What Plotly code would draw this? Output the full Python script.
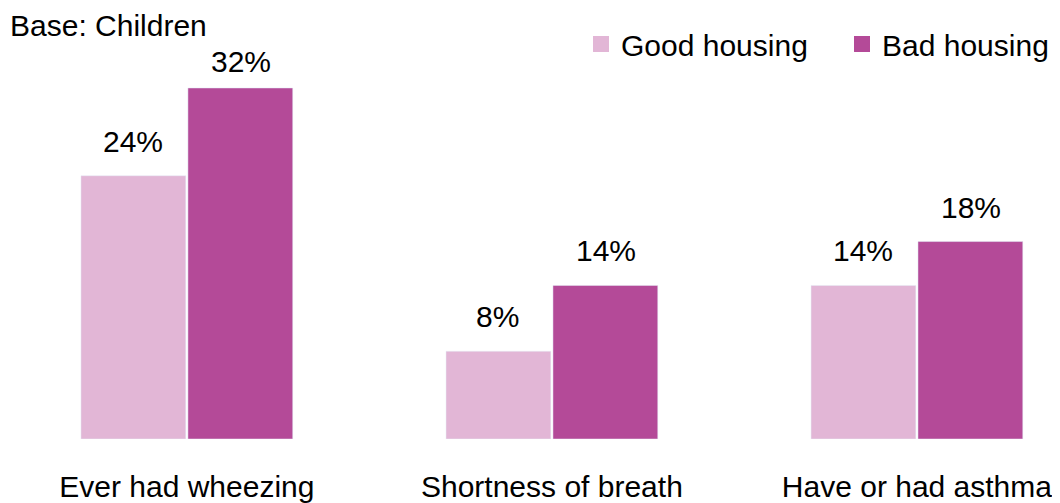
import plotly.graph_objects as go

categories = ["Ever had wheezing", "Shortness of breath", "Have or had asthma"]
good_housing = [24, 8, 14]
bad_housing = [32, 14, 18]

FONT = "Liberation Sans, Arial, sans-serif"
GOOD_COLOR = "#E2B6D6"
BAD_COLOR = "#B44A98"
FS = 30

fig = go.Figure()
fig.add_trace(go.Bar(x=categories, y=good_housing, name="Good housing", marker_color=GOOD_COLOR, showlegend=False))
fig.add_trace(go.Bar(x=categories, y=bad_housing, name="Bad housing", marker_color=BAD_COLOR, showlegend=False))

# legend-only entries (one legend each so they can be placed freely)
fig.add_trace(go.Scatter(x=[None], y=[None], mode="markers", name="Good housing", legend="legend",
                         marker=dict(symbol="square", size=19, color=GOOD_COLOR)))
fig.add_trace(go.Scatter(x=[None], y=[None], mode="markers", name="Bad housing", legend="legend2",
                         marker=dict(symbol="square", size=19, color=BAD_COLOR)))

# value labels above bars; the tallest one is squeezed closer to its bar
top_val = max(good_housing + bad_housing)
for vals, shift in [(good_housing, -54), (bad_housing, 54)]:
    for cat, v in zip(categories, vals):
        fig.add_annotation(x=cat, y=v, text=f"{v}%", showarrow=False, xshift=shift,
                           yanchor="bottom", yshift=8 if v == top_val else 16,
                           font=dict(size=FS, color="#000000"))

fig.add_annotation(x=0, y=0.959, xref="paper", yref="paper", xanchor="left", yanchor="middle",
                   text="Base: Children", showarrow=False, font=dict(size=FS, color="#000000"))

leg = dict(orientation="h", xanchor="left", y=0.9165, yanchor="middle",
           font=dict(size=FS), bgcolor="rgba(0,0,0,0)")
fig.update_layout(
    width=1052, height=495,
    barmode="group", bargap=0.414, bargroupgap=0.02,
    plot_bgcolor="white", paper_bgcolor="white",
    font=dict(family=FONT, size=FS, color="#000000"),
    margin=dict(l=0, r=0, t=0, b=64),
    showlegend=True,
    legend=dict(leg, x=0.5447),
    legend2=dict(leg, x=0.7928),
)
fig.update_xaxes(range=[-0.490, 2.392], showline=False, showgrid=False, ticks="",
                 ticklabelstandoff=27, automargin=False)
fig.update_yaxes(range=[0, 39.29], visible=False)

fig.write_html("out.html")
